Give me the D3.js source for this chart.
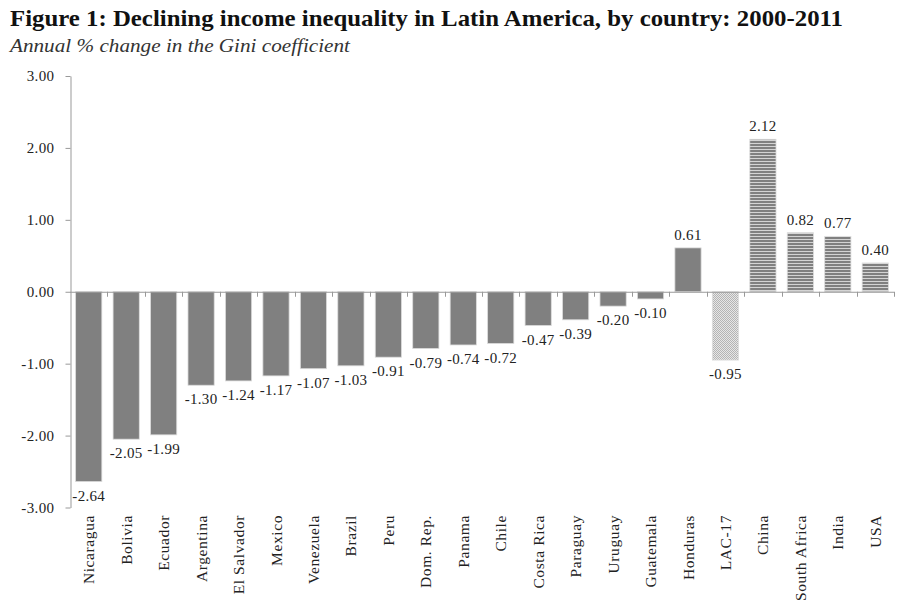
<!DOCTYPE html>
<html><head><meta charset="utf-8">
<script src="https://cdn.jsdelivr.net/npm/d3@7"></script>
<style>body{margin:0;background:#fff}svg{display:block}</style>
</head><body>
<svg id="c" width="900" height="603"></svg>
<script>
const categories = ["Nicaragua","Bolivia","Ecuador","Argentina","El Salvador","Mexico","Venezuela","Brazil","Peru","Dom. Rep.","Panama","Chile","Costa Rica","Paraguay","Uruguay","Guatemala","Honduras","LAC-17","China","South Africa","India","USA"];
const values = [-2.64,-2.05,-1.99,-1.30,-1.24,-1.17,-1.07,-1.03,-0.91,-0.79,-0.74,-0.72,-0.47,-0.39,-0.20,-0.10,0.61,-0.95,2.12,0.82,0.77,0.40];
const groups = ["latam","latam","latam","latam","latam","latam","latam","latam","latam","latam","latam","latam","latam","latam","latam","latam","latam","avg","other","other","other","other"];
const yTicks = [-3,-2,-1,0,1,2,3];

const svg = d3.select("#c");
const font = "'Liberation Serif', 'DejaVu Serif', serif";
const fmt = v => d3.format(".2f")(v).replace("\u2212","-");
const defs = svg.append("defs");
const st = defs.append("pattern").attr("id","stripes").attr("patternUnits","userSpaceOnUse").attr("width",6).attr("height",3);
st.append("rect").attr("width",6).attr("height",3).attr("fill","#d4d4d4");
st.append("rect").attr("width",6).attr("height",2).attr("fill","#808080");
const dt = defs.append("pattern").attr("id","dots").attr("patternUnits","userSpaceOnUse").attr("width",2).attr("height",2);
dt.append("rect").attr("width",2).attr("height",2).attr("fill","#e6e6e6");
dt.append("rect").attr("width",1).attr("height",1).attr("fill","#b4b4b4");
dt.append("rect").attr("x",1).attr("y",1).attr("width",1).attr("height",1).attr("fill","#b4b4b4");
const fills = {latam:"#808080", avg:"url(#dots)", other:"url(#stripes)"};

const x = d3.scaleBand().domain(categories).range([70,894]).paddingInner(0.3).paddingOuter(0.15);
const y = d3.scaleLinear().domain([-3,3]).range([507.5,76]);

svg.append("text").attr("x",10).attr("y",26).attr("font-family",font).attr("font-weight","bold").attr("font-size",23.5).attr("fill","#111")
  .attr("textLength",833).attr("lengthAdjust","spacingAndGlyphs")
  .text("Figure 1: Declining income inequality in Latin America, by country: 2000-2011");
svg.append("text").attr("x",10).attr("y",52).attr("font-family",font).attr("font-style","italic").attr("font-size",19).attr("fill","#333")
  .attr("textLength",340).attr("lengthAdjust","spacingAndGlyphs")
  .text("Annual % change in the Gini coefficient");

// y axis
const ya = svg.append("g").attr("transform","translate(70.5,0)")
  .call(d3.axisLeft(y).tickValues(yTicks).tickSize(5).tickSizeOuter(0).tickFormat(fmt));
ya.select(".domain").attr("stroke","#999");
ya.selectAll(".tick line").attr("stroke","#999");
ya.selectAll("text").attr("font-family",font).attr("font-size",15).attr("fill","#222").attr("dx",-8).attr("letter-spacing",0.4);

// bars
svg.selectAll(".bar").data(categories).enter().append("rect")
  .attr("x",d=>x(d)).attr("width",x.bandwidth())
  .attr("y",(d,i)=>y(Math.max(0,values[i])))
  .attr("height",(d,i)=>Math.abs(y(values[i])-y(0)))
  .attr("fill",(d,i)=>fills[groups[i]])
  .attr("stroke","#dcdcdc").attr("stroke-width",0.8);

// zero axis with ticks between categories
const z = y(0);
svg.append("line").attr("x1",70).attr("x2",894).attr("y1",z+0.5).attr("y2",z+0.5).attr("stroke","#999");
svg.selectAll(".zt").data(d3.range(1,categories.length+1)).enter().append("line")
  .attr("x1",i=>Math.round(70+i*(824/categories.length))+0.5).attr("x2",i=>Math.round(70+i*(824/categories.length))+0.5)
  .attr("y1",z).attr("y2",z+5).attr("stroke","#999");

// value labels
svg.selectAll(".vl").data(categories).enter().append("text")
  .attr("x",d=>x(d)+x.bandwidth()/2)
  .attr("y",(d,i)=>values[i]>=0 ? y(values[i])-8 : y(values[i])+19)
  .attr("text-anchor","middle").attr("font-family",font).attr("font-size",15).attr("fill","#222").attr("letter-spacing",0.3)
  .text((d,i)=>fmt(values[i]));

// category labels
svg.selectAll(".cl").data(categories).enter().append("text")
  .attr("transform",d=>`translate(${x(d)+x.bandwidth()/2+5.5},515) rotate(-90)`)
  .attr("text-anchor","end").attr("font-family",font).attr("font-size",15.5).attr("fill","#222").attr("letter-spacing",0.6)
  .text(d=>d);
</script>
</body></html>
